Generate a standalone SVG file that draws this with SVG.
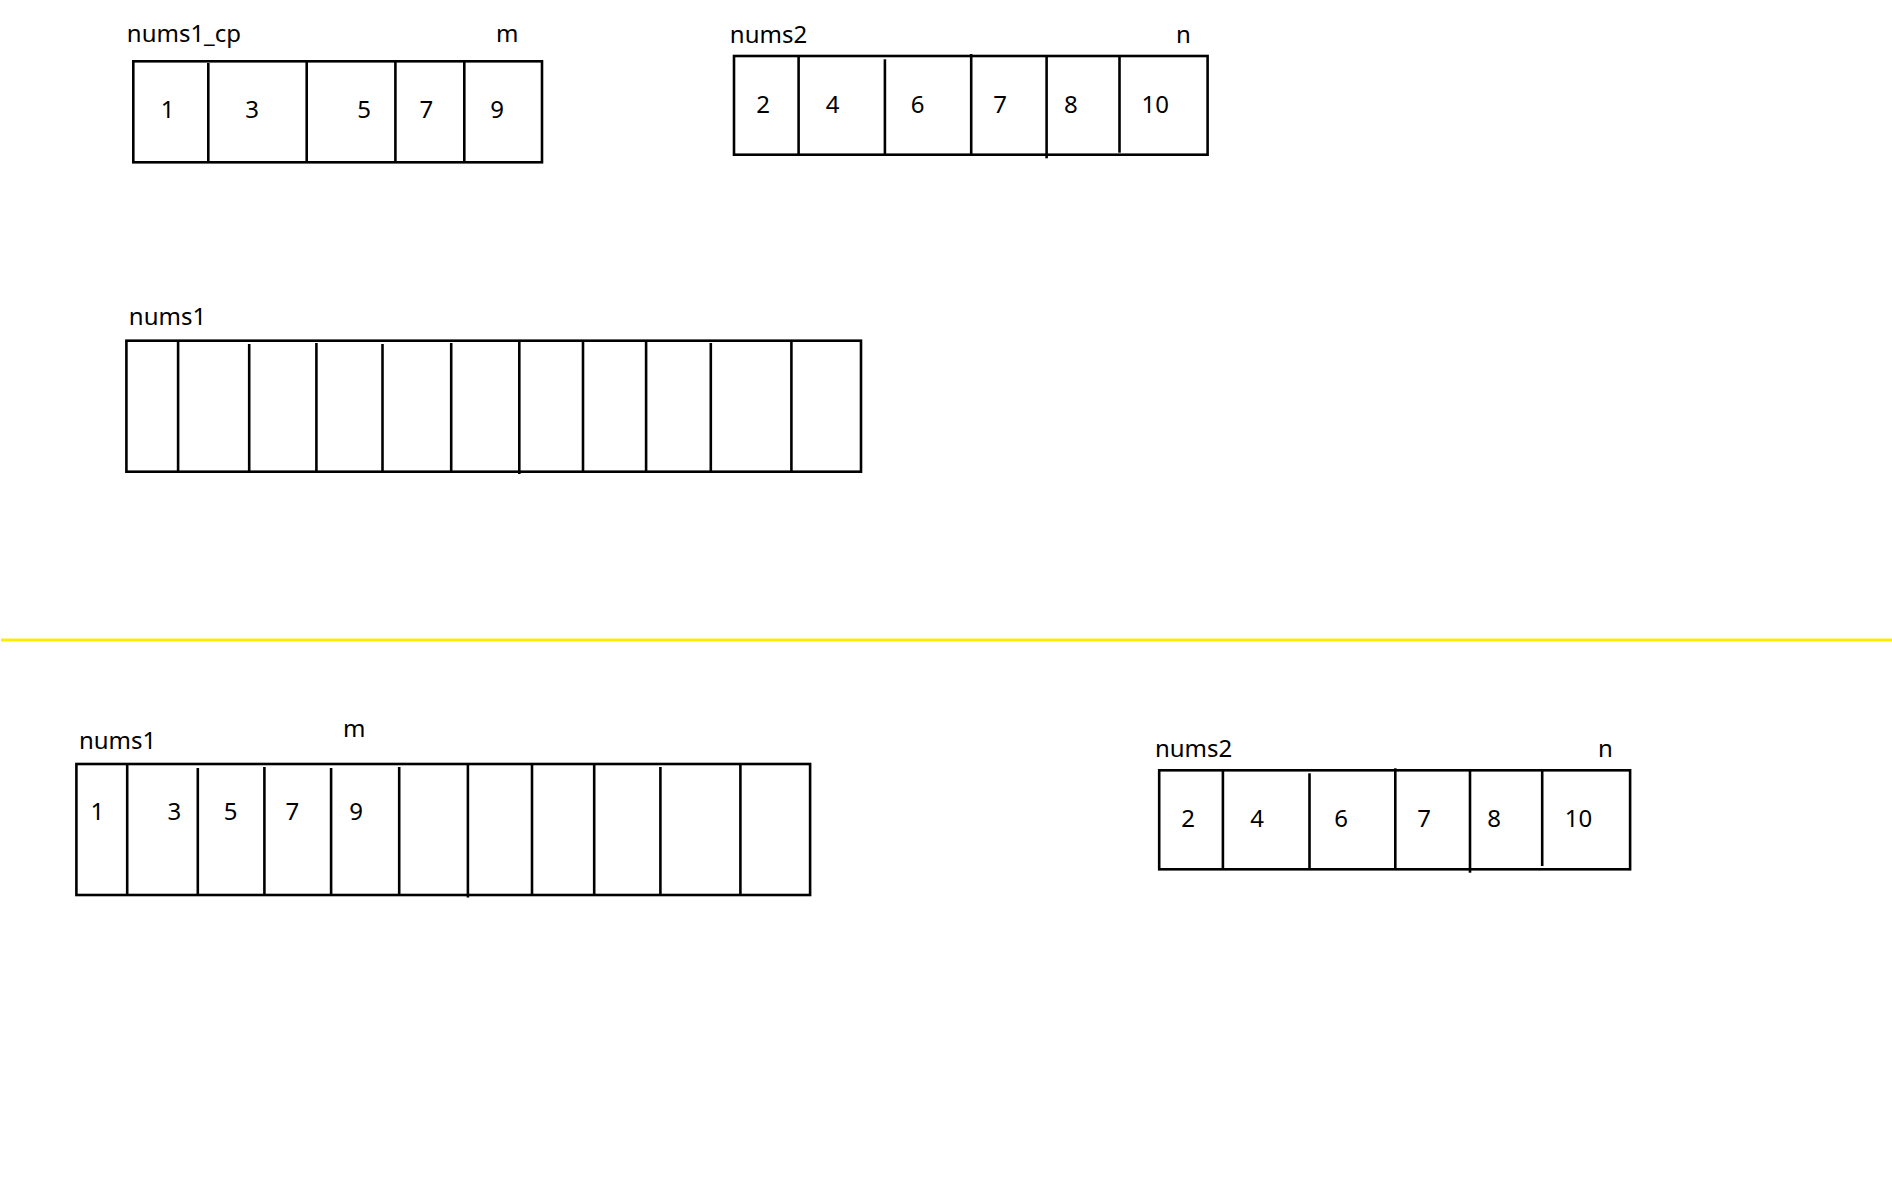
<svg xmlns="http://www.w3.org/2000/svg" width="1892" height="1192" viewBox="0 0 1892 1192">
<style>
.box{fill:none;stroke:#000;stroke-width:2.6}
.div{stroke:#000;stroke-width:2.6}
.lbl{font-family:"Noto Sans","Open Sans",sans-serif;font-size:24px;fill:#000}
.num{font-family:"Noto Sans","Open Sans",sans-serif;font-size:24px;fill:#000;text-anchor:middle}
</style>
<rect width="1892" height="1192" fill="#fff"/>
<g id="nums1_cp">
<text class="lbl" x="126.8" y="42.3">nums1_cp</text>
<text class="lbl" x="496" y="42.3">m</text>
<rect class="box" x="133.3" y="61.3" width="408.7" height="101"/>
<line class="div" x1="208.3" y1="63" x2="208.3" y2="162.3"/>
<line class="div" x1="306.7" y1="61.3" x2="306.7" y2="162.3"/>
<line class="div" x1="395.4" y1="61.3" x2="395.4" y2="162.3"/>
<line class="div" x1="464.3" y1="61.3" x2="464.3" y2="162.3"/>
<text class="num" x="167.7" y="117.8">1</text>
<text class="num" x="252" y="117.8">3</text>
<text class="num" x="364" y="117.8">5</text>
<text class="num" x="426.4" y="117.8">7</text>
<text class="num" x="497" y="117.8">9</text>
</g>
<g id="nums2_top">
<text class="lbl" x="729.8" y="42.7">nums2</text>
<text class="lbl" x="1176" y="42.7">n</text>
<rect class="box" x="734" y="56" width="473.6" height="98.7"/>
<line class="div" x1="798.6" y1="56" x2="798.6" y2="154.7"/>
<line class="div" x1="884.9" y1="59.3" x2="884.9" y2="154.7"/>
<line class="div" x1="971.2" y1="54" x2="971.2" y2="154.7"/>
<line class="div" x1="1046.6" y1="56" x2="1046.6" y2="158.3"/>
<line class="div" x1="1119.5" y1="56" x2="1119.5" y2="152.7"/>
<text class="num" x="763" y="113.2">2</text>
<text class="num" x="832.6" y="113.2">4</text>
<text class="num" x="917.5" y="113.2">6</text>
<text class="num" x="1000" y="113.2">7</text>
<text class="num" x="1070.8" y="113.2">8</text>
<text class="num" x="1155.3" y="113.2">10</text>
</g>
<g id="nums1_empty">
<text class="lbl" x="128.8" y="325">nums1</text>
<rect class="box" x="126.4" y="340.7" width="734.6" height="131"/>
<line class="div" x1="178.1" y1="340.7" x2="178.1" y2="471.7"/>
<line class="div" x1="249.2" y1="344" x2="249.2" y2="471.7"/>
<line class="div" x1="316.4" y1="343" x2="316.4" y2="471.7"/>
<line class="div" x1="382.5" y1="344" x2="382.5" y2="471.7"/>
<line class="div" x1="451.2" y1="343" x2="451.2" y2="471.7"/>
<line class="div" x1="519.3" y1="340.7" x2="519.3" y2="474"/>
<line class="div" x1="583" y1="340.7" x2="583" y2="471.7"/>
<line class="div" x1="646.1" y1="340.7" x2="646.1" y2="471.7"/>
<line class="div" x1="710.8" y1="343" x2="710.8" y2="471.7"/>
<line class="div" x1="791.4" y1="340.7" x2="791.4" y2="471.7"/>
</g>
<g id="separator">
<line x1="1" y1="640" x2="1892" y2="640" stroke="#FFEB00" stroke-width="3"/>
</g>
<g id="nums1_bottom">
<text class="lbl" x="78.9" y="749.3">nums1</text>
<text class="lbl" x="343" y="737.3">m</text>
<rect class="box" x="76.4" y="764" width="733.7" height="131"/>
<line class="div" x1="127.2" y1="764" x2="127.2" y2="895"/>
<line class="div" x1="197.8" y1="768" x2="197.8" y2="895"/>
<line class="div" x1="264.4" y1="767" x2="264.4" y2="895"/>
<line class="div" x1="331.1" y1="768" x2="331.1" y2="895"/>
<line class="div" x1="399.2" y1="767" x2="399.2" y2="895"/>
<line class="div" x1="467.9" y1="764" x2="467.9" y2="897.5"/>
<line class="div" x1="532" y1="764" x2="532" y2="895"/>
<line class="div" x1="594.2" y1="764" x2="594.2" y2="895"/>
<line class="div" x1="660.4" y1="767" x2="660.4" y2="895"/>
<line class="div" x1="740.4" y1="764" x2="740.4" y2="895"/>
<text class="num" x="97.3" y="819.8">1</text>
<text class="num" x="174.4" y="819.8">3</text>
<text class="num" x="230.6" y="819.8">5</text>
<text class="num" x="292.3" y="819.8">7</text>
<text class="num" x="356" y="819.8">9</text>
</g>
<g id="nums2_bottom">
<text class="lbl" x="1154.9" y="756.7">nums2</text>
<text class="lbl" x="1598" y="756.7">n</text>
<rect class="box" x="1159.2" y="770.3" width="470.9" height="99"/>
<line class="div" x1="1222.9" y1="770.3" x2="1222.9" y2="869.3"/>
<line class="div" x1="1309.5" y1="773.3" x2="1309.5" y2="869.3"/>
<line class="div" x1="1395.3" y1="768.3" x2="1395.3" y2="869.3"/>
<line class="div" x1="1470" y1="770.3" x2="1470" y2="872.7"/>
<line class="div" x1="1542.2" y1="770.3" x2="1542.2" y2="866"/>
<text class="num" x="1188.1" y="827.2">2</text>
<text class="num" x="1257" y="827.2">4</text>
<text class="num" x="1341" y="827.2">6</text>
<text class="num" x="1424.2" y="827.2">7</text>
<text class="num" x="1494.1" y="827.2">8</text>
<text class="num" x="1578.4" y="827.2">10</text>
</g>
<g id="connectors"></g>
</svg>
